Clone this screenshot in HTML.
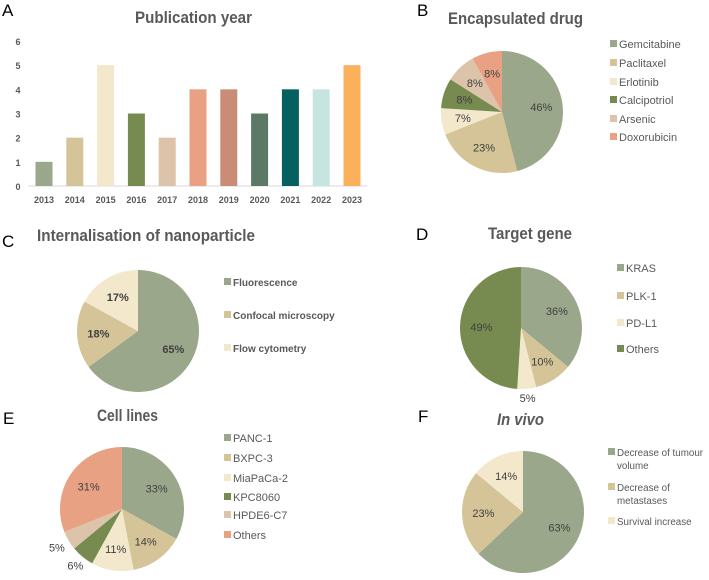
<!DOCTYPE html>
<html><head><meta charset="utf-8">
<style>
body{margin:0;background:#fff;}
svg{display:block;font-family:"Liberation Sans",sans-serif;}
.t{font-weight:bold;fill:#595959;font-size:17px;}
.lt{fill:#595959;}
.pl{fill:#404040;font-size:11px;}
.pan{font-size:17px;fill:#000;}
</style></head>
<body>
<svg id="fig" width="709" height="580" viewBox="0 0 709 580">
<text class="pan" x="2" y="16">A</text>
<text class="pan" x="417" y="16">B</text>
<text class="pan" x="2" y="247">C</text>
<text class="pan" x="416" y="240">D</text>
<text class="pan" x="3" y="424">E</text>
<text class="pan" x="418" y="422">F</text>
<g id="barChart"></g>
<g id="pies"></g>
</svg>
<script>
const years=["2013","2014","2015","2016","2017","2018","2019","2020","2021","2022","2023"];
const counts=[1,2,5,3,2,4,4,3,4,4,5];
const yTicks=[0,1,2,3,4,5,6];
const barColors=["#9ba78a","#d4c497","#f3e7cc","#778a50","#dcc3a9","#e9a183","#cb8c77","#5c7867","#06605f","#c6e5e1","#fbb15c"];

const drugLabels=["Gemcitabine","Paclitaxel","Erlotinib","Calcipotriol","Arsenic","Doxorubicin"];
const drugValues=[46,23,7,8,8,8];
const internLabels=["Fluorescence","Confocal microscopy","Flow cytometry"];
const internValues=[65,18,17];
const geneLabels=["KRAS","PLK-1","PD-L1","Others"];
const geneValues=[36,10,5,49];
const cellLabels=["PANC-1","BXPC-3","MiaPaCa-2","KPC8060","HPDE6-C7","Others"];
const cellValues=[33,14,11,6,5,31];
const vivoLabels=["Decrease of tumour volume","Decrease of metastases","Survival increase"];
const vivoValues=[63,23,14];

const NS="http://www.w3.org/2000/svg";
function mk(tag,attrs,parent,text){const e=document.createElementNS(NS,tag);for(const k in attrs)e.setAttribute(k,attrs[k]);if(text!==undefined)e.textContent=text;parent.appendChild(e);return e;}

// Bar chart
const bc=document.getElementById('barChart');
const y0=186,yUnit=(186-41)/6,x0=44,xStep=30.8,bw=17;
const yS=v=>y0-v*yUnit, xS=i=>x0+i*xStep;
let t=mk('text',{class:'t',x:135,y:23,textLength:117,lengthAdjust:'spacingAndGlyphs'},bc,'Publication year');


let ax=mk('line',{x1:28,x2:367,y1:y0,y2:y0,stroke:'#d9d9d9','stroke-width':1},bc);


yTicks.forEach(v=>{const e=mk('text',{x:18,y:yS(v)+4,'text-anchor':'middle','font-size':'9','font-weight':'bold',fill:'#595959'},bc,String(v));

});
years.forEach((yr,i)=>{
 const r=mk('rect',{x:xS(i)-bw/2,y:yS(counts[i]),width:bw,height:counts[i]*yUnit,fill:barColors[i]},bc);
 
 
 const l=mk('text',{x:xS(i),y:203,'text-anchor':'middle','font-size':'9','font-weight':'bold',fill:'#595959'},bc,yr);
 
 
});

const pal=["#9ba78a","#d4c497","#f3e7cc","#778a50","#dcc3a9","#e9a183"];
function pie(name,title,titleX,titleW,titleY,italic,cx,cy,r,vals,labels,cols,legX,legYs,legBold,outside,legLines,legFs){
 const g=mk('g',{},document.getElementById('pies'));
 
 
 const tt=mk('text',{class:'t',x:titleX,y:titleY,textLength:titleW,lengthAdjust:'spacingAndGlyphs','font-style':italic?'italic':'normal'},g,title);
 
 
 const tot=vals.reduce((a,b)=>a+b,0);let a=0;
 vals.forEach((v,i)=>{
  const a1=a,a2=a+v/tot*2*Math.PI;a=a2;
  const p=ang=>[cx+r*Math.sin(ang),cy-r*Math.cos(ang)];
  const [x1,yy1]=p(a1),[x2,yy2]=p(a2);
  const large=(a2-a1)>Math.PI?1:0;
  const s=mk('path',{d:`M${cx},${cy}L${x1},${yy1}A${r},${r} 0 ${large} 1 ${x2},${yy2}Z`,fill:cols[i]},g);
  
  
  const m=(a1+a2)/2, rr=outside&&outside[i]?r*outside[i]:r*0.65;
  const lb=mk('text',{class:'pl',x:cx+rr*Math.sin(m),y:cy-rr*Math.cos(m)+4,'text-anchor':'middle','font-weight':legBold?'bold':'normal'},g,v+'%');
  
  
  const ly=legYs[i];
  const sq=mk('rect',{x:legX,y:ly-4,width:7,height:7,fill:cols[i]},g);
  
  
  const lines=legLines&&legLines[i]?legLines[i]:[labels[i]];
  lines.forEach((ln,j)=>{
   const lt=mk('text',{class:'lt',x:legX+9,y:ly+4+j*13,'font-weight':legBold?'bold':'normal',style:'font-size:'+(legFs||11)+'px'},g,ln);
   
   
  });
 });
}
pie('encapsulated-drug','Encapsulated drug',448,135,24,false,502,112,61,drugValues,drugLabels,pal,610,[44,63,82,100,119,137],false,null,null);
pie('internalisation','Internalisation of nanoparticle',37,218,241,false,138,331,61,internValues,internLabels,pal,224,[282,315,348],true,null,null,10);
pie('target-gene','Target gene',488,84,239,false,521,328,61,geneValues,geneLabels,["#9ba78a","#d4c497","#f3e7cc","#778a50"],617,[268,296,323,349],false,[0,0,1.15,0],null);
pie('cell-lines','Cell lines',97,61,421,false,122,509,62,cellValues,cellLabels,pal,224,[438,458,478,497,515,535],false,[0,0,0,1.18,1.22,0],null);
pie('in-vivo','In vivo',497,47,425,true,523,512,61,vivoValues,vivoLabels,pal,608,[452,487,521],false,null,[["Decrease of tumour","volume"],["Decrease of","metastases"],["Survival increase"]],9.8);
</script>
</body></html>
